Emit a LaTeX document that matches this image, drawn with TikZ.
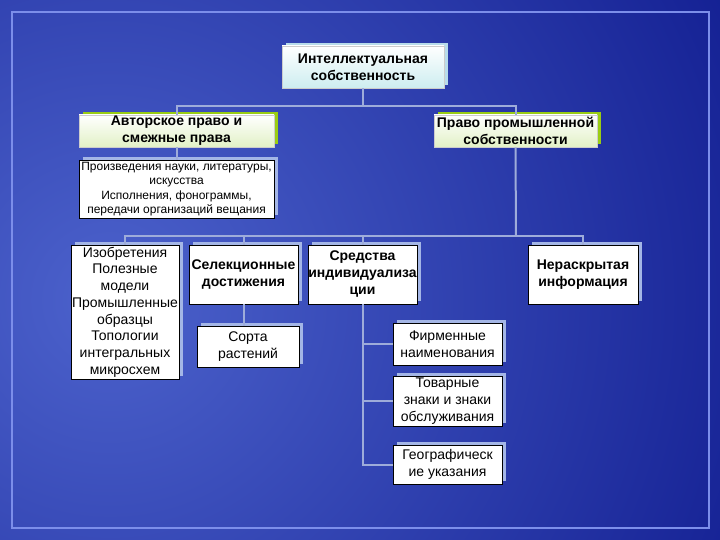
\documentclass[tikz,border=0pt]{standalone}
\usepackage{fontspec}
\setmainfont{Liberation Sans}
\usepackage{xcolor}
\definecolor{ipbgin}{HTML}{4C62CC}
\definecolor{ipbgout}{HTML}{0D188C}
\definecolor{ipframe}{HTML}{7C8EEA}
\definecolor{ipline}{HTML}{9EACDA}
\definecolor{ipshadow}{HTML}{A4B6E6}
\definecolor{ipgreen}{HTML}{9ACD14}
\definecolor{ipcyan}{HTML}{CDEDF0}
\definecolor{ipcyanshadow}{HTML}{B8DCEA}
\definecolor{ipgreentint}{HTML}{E2F1C6}
\usetikzlibrary{positioning,shadows}
\tikzset{
  ipbox/.style={draw=black,fill=white,line width=0.8pt,inner sep=1pt,align=center,font=\fontsize{14}{16.7}\selectfont,drop shadow={shadow xshift=4pt,shadow yshift=3pt,fill=ipshadow,opacity=1}},
  ipbold/.style={ipbox,font=\bfseries\fontsize{14}{17}\selectfont},
  ipsmall/.style={ipbox,font=\fontsize{12}{14.3}\selectfont},
  iptop/.style={ipbold,draw=gray!40,top color=white,bottom color=ipcyan,drop shadow={shadow xshift=4pt,shadow yshift=3pt,fill=ipcyanshadow,opacity=1}},
  ipgreenbox/.style={ipbold,draw=gray!40,top color=white,bottom color=ipgreentint,drop shadow={shadow xshift=4pt,shadow yshift=3pt,fill=ipgreen,opacity=1}},
  iplink/.style={draw=ipline,line width=2pt},
}

\begin{document}
\begin{tikzpicture}[x=1pt,y=-1pt]
 % background and frame
\useasboundingbox (0,0) rectangle (720,540);
\begin{scope}
\clip (0,0) rectangle (720,540);
\shade[inner color=ipbgin,outer color=ipbgout] (110,300) circle (780);
\end{scope}
\draw[ipframe,line width=2pt] (12,12) rectangle (709,528);
 % boxes
\node[iptop,minimum width=162pt,minimum height=42pt] (ip) at (363,67) {Интеллектуальная\\собственность};
\node[ipgreenbox,minimum width=195pt,minimum height=32pt] (author) at (176.5,131) {Авторское право и\\смежные права};
\node[ipgreenbox,minimum width=163pt,minimum height=32pt] (indus) at (515.5,131) {Право промышленной\\собственности};
\node[ipsmall,minimum width=195pt,minimum height=58pt] (works) at (176.5,189) {Произведения науки, литературы,\\искусства\\Исполнения, фонограммы,\\передачи организаций вещания};
\node[ipbox,minimum width=108pt,minimum height=134pt] (inv) at (125,312) {Изобретения\\Полезные\\модели\\Промышленные\\образцы\\Топологии\\интегральных\\микросхем};
\node[ipbold,minimum width=109pt,minimum height=59pt] (sel) at (243.5,274.5) {Селекционные\\достижения};
\node[ipbold,inner xsep=0pt,minimum width=109pt,minimum height=59pt] (indiv) at (362.5,274.5) {Средства\\индивидуализа\\ции};
\node[ipbold,minimum width=110pt,minimum height=59pt] (undis) at (583,274.5) {Нераскрытая\\информация};
\node[ipbox,minimum width=102pt,minimum height=41pt] (plant) at (248,346.5) {Сорта\\растений};
\node[ipbox,minimum width=109pt,minimum height=42pt] (firm) at (447.5,344) {Фирменные\\наименования};
\node[ipbox,minimum width=109pt,minimum height=50pt] (trade) at (447.5,401) {Товарные\\знаки и знаки\\обслуживания};
\node[ipbox,minimum width=109pt,minimum height=39pt] (geo) at (447.5,464.5) {Географическ\\ие указания};
 % links
\coordinate (busA) at (363,106);
\coordinate (busB) at (516,236);
\draw[iplink] (ip.south) -- (busA);
\draw[iplink] (author.north) |- (busA) -| (indus.north);
\draw[iplink] (author.south) -- (works.north);
\draw[iplink] (indus.south) -- (busB);
\draw[iplink] (inv.north) |- (busB) -| (undis.north);
\draw[iplink] (sel.north) -- (sel.north |- busB);
\draw[iplink] (indiv.north) -- (indiv.north |- busB);
\draw[iplink] (sel.south) -- (sel.south |- plant.north);
\draw[iplink] (indiv.south) -- (indiv.south |- geo.west) -- (geo.west);
\draw[iplink] (indiv.south |- firm.west) -- (firm.west);
\draw[iplink] (indiv.south |- trade.west) -- (trade.west);
\end{tikzpicture}
\end{document}
